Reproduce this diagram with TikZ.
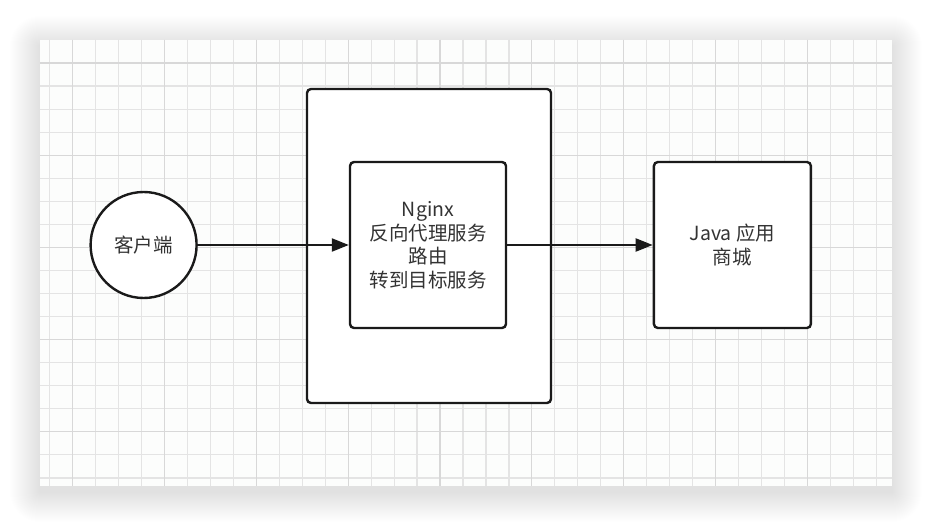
\documentclass[tikz,border=0pt]{standalone}
\usepackage{fontspec}
\setmainfont{Noto Sans CJK SC}
\usetikzlibrary{positioning,arrows.meta}
\definecolor{gridline}{HTML}{E4E4E4}
\definecolor{gridmajor}{HTML}{D8D8D8}
\definecolor{gridbg}{HTML}{FCFDFC}
\definecolor{ink}{HTML}{1A1A1A}
\definecolor{txt}{HTML}{333333}
\tikzset{
  block/.style={draw=ink, line width=2.4pt, rounded corners=4pt, fill=white,
    text=txt, align=center, font=\fontsize{19.5pt}{23.5pt}\selectfont},
  clientnode/.style={draw=ink, line width=2.4pt, circle, fill=white,
    minimum size=106pt, inner sep=0pt, text=txt,
    font=\fontsize{19.5pt}{23.5pt}\selectfont},
  link/.style={draw=ink, line width=2.2pt, -{Triangle[length=17pt,width=13pt]}}
}

\begin{document}
\begin{tikzpicture}[x=1pt, y=-1pt]
    \useasboundingbox[fill=white] (0,0) rectangle (932,526);
    \foreach \i in {1,...,30}
        \fill[black, opacity=0.005, rounded corners=\i pt] (40-\i,46-\i) rectangle (892+\i,492+\i);
    \fill[gridbg] (40,40) rectangle (892,486);
    \foreach \k in {0,...,36}
        \draw[gridline, line width=1.2pt] (49.7+22.96*\k,40) -- (49.7+22.96*\k,486);
    \foreach \k in {1,...,19}
        \draw[gridline, line width=1.2pt] (40,40+23.05*\k) -- (892,40+23.05*\k);
    \foreach \k in {1,5,...,33}
        \draw[gridmajor, line width=1.2pt] (49.7+22.96*\k,40) -- (49.7+22.96*\k,486);
    \foreach \k in {1,5,...,17}
        \draw[gridmajor, line width=1.2pt] (40,40+23.05*\k) -- (892,40+23.05*\k);

    \node[block, minimum width=244pt, minimum height=314pt] (proxy) at (429,246) {};
    \node[block, minimum width=156pt, minimum height=166pt] (nginx) at (428,245)
        {Nginx\\反向代理服务\\路由\\转到目标服务};
    \node[clientnode, left=151pt of nginx] (client) {客户端};
    \node[block, minimum width=157pt, minimum height=166pt, right=145.5pt of nginx] (java)
        {Java 应用\\商城};

    \draw[link] (client) -- (nginx);
    \draw[link] (nginx) -- (java);
\end{tikzpicture}
\end{document}
